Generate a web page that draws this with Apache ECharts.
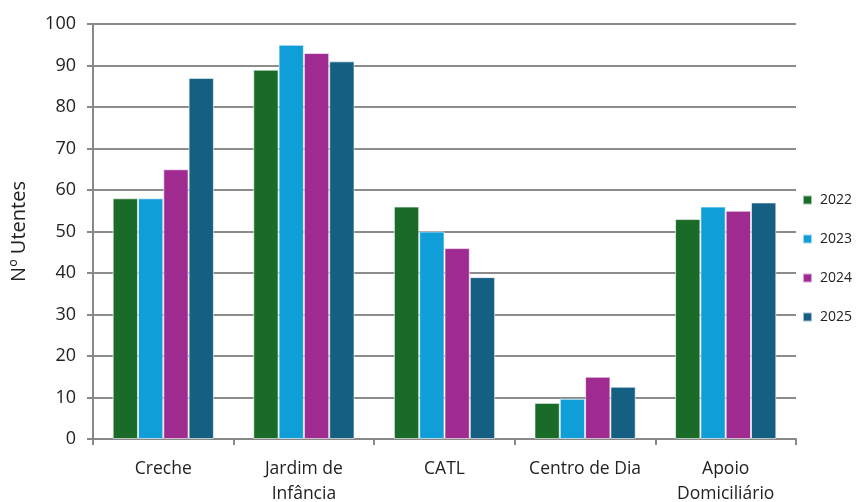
<!DOCTYPE html>
<html><head><meta charset="utf-8">
<script src="https://cdn.jsdelivr.net/npm/echarts@6/dist/echarts.min.js"></script>
<style>html,body{margin:0;padding:0;background:#fff}#c{width:856px;height:502px}</style>
</head><body><div id="c"></div>
<script>
const categories = ['Creche', 'Jardim de\nInfância', 'CATL', 'Centro de Dia', 'Apoio\nDomiciliário'];
const years = ['2022', '2023', '2024', '2025'];
const v2022 = [58, 89, 56, 8.7, 53];
const v2023 = [58, 95, 50, 9.7, 56];
const v2024 = [65, 93, 46, 15, 55];
const v2025 = [87, 91, 39, 12.6, 57];
const colors = ['#1a6b27', '#0f9ed8', '#9f2b91', '#155f82'];
const seriesData = [v2022, v2023, v2024, v2025];
const font = 'Open Sans';
const chart = echarts.init(document.getElementById('c'));
chart.setOption({
  animation: false,
  textStyle: {fontFamily: font},
  grid: {left: 93, right: 60, top: 24, bottom: 63, outerBoundsMode: 'none'},
  legend: {
    orient: 'vertical', right: -1, top: 188, itemGap: 25,
    itemWidth: 9, itemHeight: 9, icon: 'rect',
    textStyle: {fontSize: 14, color: '#222', fontFamily: font, padding: [0, 0, 0, 3]},
    data: years
  },
  xAxis: {
    type: 'category', data: categories,
    axisLine: {lineStyle: {color: '#888', width: 2}},
    axisTick: {show: true, length: 6, lineStyle: {color: '#888', width: 2}},
    axisLabel: {interval: 0, fontSize: 17.5, color: '#222', margin: 18, lineHeight: 25, fontFamily: font}
  },
  yAxis: {
    type: 'value', min: 0, max: 100, interval: 10,
    name: 'Nº Utentes', nameLocation: 'middle', nameGap: 64, nameRotate: 90,
    nameTextStyle: {fontSize: 20, color: '#222', fontFamily: font},
    axisLine: {show: true, lineStyle: {color: '#888', width: 2}},
    axisTick: {show: true, length: 6, lineStyle: {color: '#888', width: 2}},
    axisLabel: {fontSize: 18, color: '#222', margin: 17, fontFamily: font},
    splitLine: {lineStyle: {color: '#8c8c8c', width: 2}}
  },
  series: years.map((y, i) => ({
    name: y, type: 'bar', data: seriesData[i],
    barGap: '0%', barCategoryGap: '28%',
    itemStyle: {color: colors[i], borderColor: 'rgba(255,255,255,0.6)', borderWidth: 1}
  }))
});
</script></body></html>
